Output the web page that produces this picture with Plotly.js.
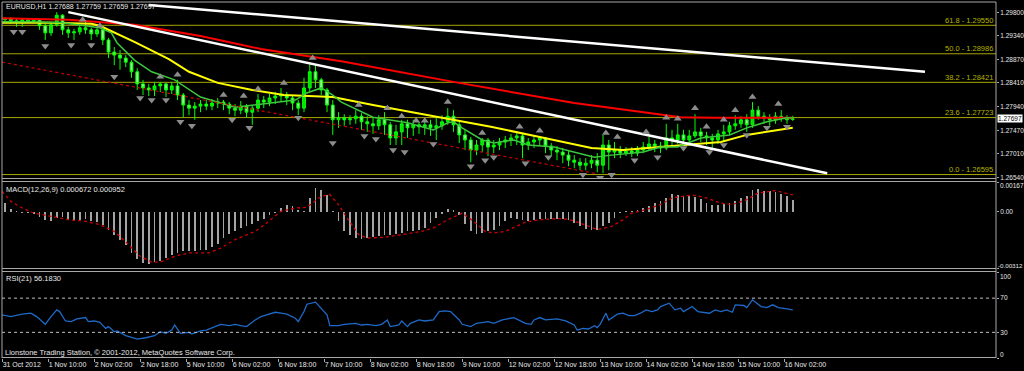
<!DOCTYPE html>
<html><head><meta charset="utf-8">
<script src="https://cdn.plot.ly/plotly-3.0.1.min.js"></script>
<style>html,body{margin:0;padding:0;background:#000;}#chart{width:1024px;height:371px;}</style>
</head><body><div id="chart"></div>
<script>
// ---------- DATA ----------
// Price candles (2-hour aggregation of the H1 chart, EURUSD)
const openP = [1.2966,1.2968,1.2964,1.2962,1.2966,1.2964,1.2966,1.2954,1.2940,1.2956,
1.2975,1.2946,1.2940,1.2942,1.2950,1.2946,1.2938,1.2946,1.2926,1.2902,
1.2896,1.2890,1.2882,1.2863,1.2839,1.2831,1.2827,1.2835,1.2839,1.2827,
1.2835,1.2817,1.2797,1.2791,1.2795,1.2799,1.2795,1.2801,1.2803,1.2799,
1.2791,1.2787,1.2795,1.2783,1.2791,1.2807,1.2803,1.2811,1.2815,1.2817,
1.2811,1.2801,1.2791,1.2831,1.2863,1.2847,1.2827,1.2797,1.2768,1.2772,
1.2768,1.2770,1.2775,1.2764,1.2760,1.2756,1.2768,1.2758,1.2732,1.2744,
1.2760,1.2752,1.2758,1.2754,1.2758,1.2752,1.2756,1.2764,1.2775,1.2758,
1.2738,1.2728,1.2708,1.2718,1.2728,1.2714,1.2718,1.2724,1.2728,1.2732,
1.2736,1.2718,1.2724,1.2728,1.2732,1.2716,1.2708,1.2704,1.2698,1.2688,
1.2684,1.2678,1.2682,1.2688,1.2678,1.2718,1.2704,1.2708,1.2702,1.2706,
1.2702,1.2708,1.2714,1.2720,1.2716,1.2712,1.2732,1.2728,1.2738,1.2728,
1.2736,1.2744,1.2736,1.2732,1.2728,1.2740,1.2744,1.2756,1.2760,1.2768,
1.2758,1.2787,1.2775,1.2772,1.2768,1.2775,1.2772,1.27688];
const closeP = [1.2968,1.2964,1.2962,1.2966,1.2964,1.2966,1.2954,1.2940,1.2956,1.2975,
1.2946,1.2940,1.2942,1.2950,1.2946,1.2938,1.2946,1.2926,1.2902,1.2896,
1.2890,1.2882,1.2863,1.2839,1.2831,1.2827,1.2835,1.2839,1.2827,1.2835,
1.2817,1.2797,1.2791,1.2795,1.2799,1.2795,1.2801,1.2803,1.2799,1.2791,
1.2787,1.2795,1.2783,1.2791,1.2807,1.2803,1.2811,1.2815,1.2817,1.2811,
1.2801,1.2791,1.2831,1.2863,1.2847,1.2827,1.2797,1.2768,1.2772,1.2768,
1.2770,1.2775,1.2764,1.2760,1.2756,1.2768,1.2758,1.2732,1.2744,1.2760,
1.2752,1.2758,1.2754,1.2758,1.2752,1.2756,1.2764,1.2775,1.2758,1.2738,
1.2728,1.2708,1.2718,1.2728,1.2714,1.2718,1.2724,1.2728,1.2732,1.2736,
1.2718,1.2724,1.2728,1.2732,1.2716,1.2708,1.2704,1.2698,1.2688,1.2684,
1.2678,1.2682,1.2688,1.2678,1.2718,1.2704,1.2708,1.2702,1.2706,1.2702,
1.2708,1.2714,1.2720,1.2716,1.2712,1.2732,1.2728,1.2738,1.2728,1.2736,
1.2744,1.2736,1.2732,1.2728,1.2740,1.2744,1.2756,1.2760,1.2768,1.2758,
1.2787,1.2775,1.2772,1.2768,1.2775,1.2772,1.2768,1.27697];
const highP = [1.2971,1.2971,1.2968,1.2969,1.2969,1.2969,1.2968,1.2958,1.2962,1.2981,
1.2977,1.2952,1.2948,1.2956,1.2962,1.2950,1.2950,1.2954,1.2930,1.2912,
1.2906,1.2896,1.2886,1.2870,1.2847,1.2839,1.2843,1.2843,1.2841,1.2843,
1.2847,1.2821,1.2807,1.2803,1.2807,1.2807,1.2809,1.2811,1.2807,1.2803,
1.2799,1.2805,1.2799,1.2797,1.2819,1.2815,1.2819,1.2823,1.2831,1.2823,
1.2817,1.2807,1.2851,1.2880,1.2878,1.2851,1.2831,1.2807,1.2783,1.2779,
1.2777,1.2787,1.2781,1.2775,1.2772,1.2777,1.2783,1.2764,1.2758,1.2768,
1.2768,1.2768,1.2764,1.2764,1.2768,1.2772,1.2777,1.2791,1.2787,1.2764,
1.2748,1.2734,1.2728,1.2732,1.2732,1.2728,1.2732,1.2736,1.2740,1.2744,
1.2740,1.2732,1.2736,1.2736,1.2734,1.2722,1.2716,1.2712,1.2708,1.2698,
1.2692,1.2692,1.2698,1.2702,1.2738,1.2728,1.2724,1.2716,1.2714,1.2714,
1.2716,1.2724,1.2734,1.2728,1.2724,1.2760,1.2748,1.2760,1.2748,1.2748,
1.2779,1.2752,1.2744,1.2740,1.2748,1.2758,1.2764,1.2777,1.2775,1.2779,
1.2803,1.2795,1.2783,1.2779,1.2783,1.2787,1.2777,1.27759];
const lowP = [1.2962,1.2958,1.2952,1.2952,1.2960,1.2960,1.2946,1.2926,1.2934,1.2952,
1.2936,1.2930,1.2926,1.2936,1.2938,1.2926,1.2932,1.2916,1.2890,1.2876,
1.2867,1.2872,1.2851,1.2827,1.2817,1.2815,1.2815,1.2823,1.2813,1.2819,
1.2807,1.2773,1.2777,1.2768,1.2783,1.2787,1.2787,1.2791,1.2787,1.2779,
1.2775,1.2779,1.2772,1.2758,1.2783,1.2791,1.2795,1.2799,1.2803,1.2797,
1.2787,1.2777,1.2783,1.2823,1.2831,1.2817,1.2783,1.2738,1.2752,1.2756,
1.2758,1.2760,1.2748,1.2744,1.2740,1.2748,1.2738,1.2718,1.2718,1.2718,
1.2732,1.2736,1.2740,1.2738,1.2736,1.2728,1.2748,1.2758,1.2744,1.2722,
1.2708,1.2684,1.2698,1.2704,1.2696,1.2702,1.2708,1.2712,1.2716,1.2718,
1.2692,1.2708,1.2712,1.2716,1.2702,1.2696,1.2688,1.2682,1.2676,1.2672,
1.2668,1.2668,1.2672,1.2664,1.2662,1.2668,1.2692,1.2692,1.2696,1.2694,
1.2696,1.2702,1.2708,1.2704,1.2702,1.2708,1.2716,1.2720,1.2720,1.2724,
1.2732,1.2724,1.2718,1.2712,1.2720,1.2724,1.2738,1.2748,1.2752,1.2744,
1.2752,1.2768,1.2760,1.2756,1.2760,1.2764,1.2760,1.27659];

// Moving averages (bar index, price)
const greenMaBar = [0,11,21,30,34,38,40,46,52,60,69,81,93,102,106,111,115,118,129,141,150,155,157,160,167,171,178,183,192,199,206,212,223,229,235,243,253,259,266,273,275];
const greenMa = [1.2962,1.2962,1.2960,1.2954,1.2950,1.2940,1.2920,1.2886,1.2863,1.2847,1.2813,1.2793,1.2801,1.2807,1.2821,1.2831,1.2817,1.2803,1.2773,1.2762,1.2748,1.2762,1.2764,1.2752,1.2728,1.2722,1.2728,1.2718,1.2714,1.2704,1.2694,1.2698,1.2704,1.2714,1.2714,1.2732,1.2738,1.2752,1.2764,1.2772,1.2772];
const yellowMaBar = [0,17,31,34,46,58,65,75,87,98,115,129,153,170,187,205,216,236,250,259,270,275];
const yellowMa = [1.2960,1.2960,1.2958,1.2954,1.2922,1.2888,1.2863,1.2841,1.2827,1.2817,1.2813,1.2797,1.2772,1.2754,1.2734,1.2712,1.2708,1.2718,1.2724,1.2738,1.2748,1.2752];
const redMaBar = [0,23,46,69,90,118,157,199,218,236,248,275];
const redMa = [1.2969,1.2966,1.2956,1.2934,1.2908,1.2884,1.2843,1.2801,1.2787,1.2773,1.2772,1.2772];

// Trend lines (end points: bar index, price)
const upperTrendBar = [51, 321];
const upperTrend = [1.2995, 1.2863];
const lowerTrendBar = [23, 287];
const lowerTrend = [1.2981, 1.2662];
const dottedTrendBar = [0, 207];
const dottedTrend = [1.2882, 1.2661];

// Fibonacci retracement levels
const fibLevels = [1.29550, 1.28986, 1.28421, 1.27723, 1.26595];
const fibLabels = ['61.8 - 1.29550', '50.0 - 1.28986', '38.2 - 1.28421', '23.6 - 1.27723', '0.0 - 1.26595'];

// Fractals
const fracUpBar = [28,34,55,61,77,84,89,98,108,124,134,139,144,147,155,167,180,187,210,214,224,231,235,241,245,251,255,261,270];
const fracUp = [1.2966,1.2954,1.2853,1.2857,1.2817,1.2815,1.2829,1.2841,1.2890,1.2797,1.2791,1.2775,1.2766,1.2766,1.2803,1.2742,1.2754,1.2746,1.2742,1.2734,1.2744,1.2772,1.2770,1.2791,1.2754,1.2768,1.2787,1.2813,1.2799];
const fracDnBar = [4,7,15,24,31,39,48,52,57,62,66,80,86,103,115,126,130,136,140,150,163,168,171,182,190,202,208,212,220,228,237,246,251,259,266,273];
const fracDn = [1.2942,1.2942,1.2914,1.2916,1.2916,1.2853,1.2811,1.2807,1.2807,1.2764,1.2756,1.2768,1.2752,1.2772,1.2722,1.2736,1.2730,1.2708,1.2704,1.2720,1.2676,1.2688,1.2694,1.2682,1.2694,1.2659,1.2653,1.2659,1.2688,1.2694,1.2712,1.2704,1.2718,1.2738,1.2752,1.2754];

// MACD(12,26,9): histogram per candle, signal line
const macdHist = [0.00050,0.00019,0.00007,-0.00004,-0.00007,-0.00011,-0.00030,-0.00043,-0.00048,-0.00033,
-0.00030,-0.00043,-0.00052,-0.00045,-0.00041,-0.00048,-0.00056,-0.00071,-0.00098,-0.00126,
-0.00154,-0.00182,-0.00228,-0.00260,-0.00284,-0.00290,-0.00279,-0.00271,-0.00256,-0.00241,
-0.00228,-0.00219,-0.00219,-0.00215,-0.00210,-0.00210,-0.00197,-0.00178,-0.00145,-0.00123,
-0.00108,-0.00089,-0.00080,-0.00067,-0.00052,-0.00037,-0.00019,-0.00004,0.00022,0.00037,
0.00032,0.00013,0.00007,0.00078,0.00134,0.00124,0.00097,0.00004,-0.00052,-0.00108,
-0.00130,-0.00145,-0.00149,-0.00145,-0.00141,-0.00136,-0.00126,-0.00130,-0.00123,-0.00117,
-0.00108,-0.00104,-0.00098,-0.00089,-0.00061,-0.00033,-0.00011,0.00019,0.00013,-0.00015,
-0.00067,-0.00108,-0.00123,-0.00117,-0.00108,-0.00098,-0.00080,-0.00052,-0.00033,-0.00037,
-0.00043,-0.00048,-0.00045,-0.00041,-0.00039,-0.00039,-0.00039,-0.00041,-0.00045,-0.00061,
-0.00080,-0.00093,-0.00100,-0.00098,-0.00080,-0.00061,-0.00033,-0.00007,0.00004,0.00007,
0.00013,0.00022,0.00032,0.00048,0.00063,0.00078,0.00100,0.00093,0.00087,0.00087,
0.00082,0.00074,0.00050,0.00037,0.00041,0.00045,0.00048,0.00059,0.00078,0.00087,
0.00124,0.00126,0.00119,0.00115,0.00111,0.00100,0.00087,0.00067];
const macdSigBar = [0,3,7,11,17,23,29,34,39,44,48,52,55,60,65,72,76,81,88,92,97,102,106,111,114,117,120,124,127,133,139,146,150,155,160,164,168,171,175,178,182,187,193,197,201,207,212,216,219,224,229,233,238,241,245,250,254,259,263,269,275];
const macdSig = [0.00115,0.00059,0.00022,-0.00006,-0.00024,-0.00043,-0.00052,-0.00071,-0.00108,-0.00182,
-0.00247,-0.00279,-0.00279,-0.00247,-0.00228,-0.00228,-0.00201,-0.00154,-0.00108,-0.00061,
0.00004,0.00022,0.00026,0.00087,0.00097,0.00041,-0.00033,-0.00126,-0.00145,-0.00141,
-0.00126,-0.00108,-0.00089,-0.00043,-0.00006,-0.00052,-0.00108,-0.00117,-0.00108,-0.00087,
-0.00056,-0.00043,-0.00037,-0.00041,-0.00061,-0.00098,-0.00080,-0.00043,-0.00006,0.00013,
0.00041,0.00078,0.00091,0.00093,0.00078,0.00050,0.00041,0.00069,0.00106,0.00119,0.00095];

// RSI(21)
const rsiBar = [0,3,7,10,12,14,15,17,19,20,22,24,26,29,30,32,34,36,37,39,40,43,47,50,53,55,57,59,60,62,65,66,69,71,73,76,79,81,83,85,88,90,92,95,97,99,102,103,105,106,109,111,113,114,117,119,123,125,127,130,132,134,135,138,139,141,142,145,147,150,152,154,156,159,160,163,165,169,171,174,178,182,184,185,187,189,193,196,199,200,202,204,206,207,208,210,211,214,216,218,220,222,224,226,228,229,232,234,236,237,240,242,246,248,250,252,254,255,258,259,261,264,266,268,270,273,275];
const rsiVal = [50.4,48.4,51.2,52.4,48.4,41.8,39.4,48.4,56.3,54.3,43.3,42.5,45.7,47.3,42.5,43.3,41.8,34.7,36.7,30.8,31.6,26.1,22.2,23.7,26.1,30.8,28.8,32.7,38.6,28.8,30.0,28.0,31.6,32.7,35.5,39.4,37.8,39.4,37.8,36.7,44.5,48.4,50.4,53.5,52.4,51.2,46.5,42.5,54.3,62.9,65.3,58.2,50.4,37.8,37.8,39.4,40.6,38.6,39.4,37.8,39.4,44.5,36.7,38.6,43.3,36.7,40.6,44.5,43.3,44.5,54.3,55.1,54.3,44.5,39.4,36.7,40.6,42.5,40.6,44.5,47.3,40.6,39.4,44.5,47.3,44.5,45.7,43.3,38.6,32.7,34.7,33.9,37.8,35.5,39.4,52.4,44.5,51.2,52.4,49.6,49.6,52.4,56.3,54.3,56.3,60.2,64.1,56.3,58.2,54.3,60.2,54.3,52.4,56.3,54.3,56.3,53.5,62.2,61.4,59.0,68.0,60.2,59.0,62.2,59.0,57.5,56.2];
const rsiLevels = [70, 30];

// Axis ticks
const timeTickBar = [0,16,32,48,64,80,96,112,128,144,160,176,192,208,224,240,256,272];
const timeTickLabels = ['31 Oct 2012','1 Nov 10:00','2 Nov 02:00','2 Nov 18:00','5 Nov 10:00','6 Nov 02:00','6 Nov 18:00','7 Nov 10:00','8 Nov 02:00','8 Nov 18:00','9 Nov 10:00','12 Nov 02:00','12 Nov 18:00','13 Nov 10:00','14 Nov 02:00','14 Nov 18:00','15 Nov 10:00','16 Nov 02:00'];
const priceTicks = [1.29800,1.29340,1.28870,1.28410,1.27940,1.27470,1.27010,1.26540];
const priceTickLabels = ['1.29800','1.29340','1.28870','1.28410','1.27940','1.27470','1.27010','1.26540'];
const lastPrice = 1.27697;
const headerText = 'EURUSD,H1 1.27688 1.27759 1.27659 1.27697';
const macdText = 'MACD(12,26,9) 0.000672 0.000952';
const rsiText = 'RSI(21) 56.1830';
const footerText = 'Lionstone Trading Station, © 2001-2012, MetaQuotes Software Corp.';

// ---------- DRAWING ----------
const candleBar = openP.map((_, k) => 2 * k + 1);
const FONT = 'Liberation Sans, Arial, sans-serif';
const FS = 7.5;
const AFS = 6.5;
const TXT = '#e8e8e8';
const py = px => (358 - px) / 356;   // pixel row -> paper fraction of plot area

const traces = [
  {type:'candlestick', x:candleBar, open:openP, high:highP, low:lowP, close:closeP,
   xaxis:'x', yaxis:'y', whiskerwidth:0, hoverinfo:'skip',
   increasing:{line:{color:'#00ff00', width:1}, fillcolor:'#00e000'},
   decreasing:{line:{color:'#00ff00', width:1}, fillcolor:'#8cff8c'}},
  {type:'scatter', mode:'lines', x:redMaBar, y:redMa, yaxis:'y', line:{color:'#ff0000', width:2}, hoverinfo:'skip'},
  {type:'scatter', mode:'lines', x:yellowMaBar, y:yellowMa, yaxis:'y', line:{color:'#ffff00', width:2}, hoverinfo:'skip'},
  {type:'scatter', mode:'lines', x:greenMaBar, y:greenMa, yaxis:'y', line:{color:'#3cc83c', width:1.5}, hoverinfo:'skip'},
  {type:'scatter', mode:'lines', x:dottedTrendBar, y:dottedTrend, yaxis:'y', line:{color:'#c80000', width:1.2, dash:'dot'}, hoverinfo:'skip'},
  {type:'scatter', mode:'lines', x:upperTrendBar, y:upperTrend, yaxis:'y', line:{color:'#ffffff', width:2.5}, hoverinfo:'skip'},
  {type:'scatter', mode:'lines', x:lowerTrendBar, y:lowerTrend, yaxis:'y', line:{color:'#ffffff', width:2.5}, hoverinfo:'skip'},
  {type:'scatter', mode:'markers', x:fracUpBar, y:fracUp, yaxis:'y', marker:{symbol:'triangle-up', size:7, color:'#8c8c8c'}, hoverinfo:'skip'},
  {type:'scatter', mode:'markers', x:fracDnBar, y:fracDn, yaxis:'y', marker:{symbol:'triangle-down', size:7, color:'#8c8c8c'}, hoverinfo:'skip'},
  {type:'bar', x:candleBar, y:macdHist, yaxis:'y2', width:0.6, marker:{color:'#a4a4a4', line:{width:0}}, hoverinfo:'skip'},
  {type:'scatter', mode:'lines', x:macdSigBar, y:macdSig, yaxis:'y2', line:{color:'#d00000', width:1.3, dash:'dot'}, hoverinfo:'skip'},
  {type:'scatter', mode:'lines', x:rsiBar, y:rsiVal, yaxis:'y3', line:{color:'#1e6ac8', width:1.3}, hoverinfo:'skip'}
];

const grey = '#a8a8a8';
const shapes = [];
fibLevels.forEach(v => shapes.push({type:'line', xref:'paper', yref:'y', x0:0, x1:1, y0:v, y1:v, line:{color:'#a6a600', width:1}, layer:'below'}));
rsiLevels.forEach(v => shapes.push({type:'line', xref:'paper', yref:'y3', x0:0, x1:1, y0:v, y1:v, line:{color:'#c0c0c0', width:1, dash:'dot'}}));
[1, py(178.5), py(181.5), py(268.5), py(271.5), py(357.5)].forEach(y => shapes.push({type:'line', xref:'paper', yref:'paper', x0:0, x1:1, y0:y, y1:y, line:{color:grey, width:1}}));
shapes.push({type:'line', xref:'paper', yref:'paper', x0:0, x1:0, y0:0, y1:1, line:{color:grey, width:1}});
shapes.push({type:'line', xref:'paper', yref:'paper', x0:1, x1:1, y0:0, y1:1, line:{color:grey, width:1}});

const ann = [];
const txt = (text, x, y, extra) => Object.assign({text, xref:'paper', yref:'paper', x, y, xanchor:'left', yanchor:'middle', showarrow:false, font:{family:FONT, size:FS, color:TXT}}, extra || {});
ann.push(txt(headerText, 0.002, py(6), {font:{family:FONT, size:7, color:TXT}}));
ann.push(txt(macdText, 0.002, py(189)));
ann.push(txt(rsiText, 0.002, py(278)));
ann.push(txt(footerText, 0.001, py(352.5)));
fibLevels.forEach((v, i) => ann.push({text:fibLabels[i], xref:'paper', yref:'y', x:1, y:v, xanchor:'right', yanchor:'middle', yshift:5, xshift:-1, showarrow:false, font:{family:FONT, size:FS, color:'#b4b400'}}));
ann.push({text:lastPrice.toFixed(5), xref:'paper', yref:'y', x:1, y:lastPrice, xanchor:'left', yanchor:'middle', xshift:1, showarrow:false, bgcolor:'#ffffff', borderpad:0, font:{family:FONT, size:AFS, color:'#000000'}});
const axFont = {family:FONT, size:AFS, color:TXT};
ann.push(txt('0.00167', 1, py(186), {xshift:2, font:axFont}));
ann.push(txt('-0.00312', 1, py(265), {xshift:0, font:{family:FONT, size:6.2, color:TXT}}));
ann.push(txt('100', 1, py(276), {xshift:2, font:axFont}));
ann.push(txt('0', 1, py(354), {xshift:2, font:axFont}));

const yBase = {side:'right', showgrid:false, zeroline:false, showline:false, ticks:'outside', ticklen:2, tickcolor:grey, ticklabelstandoff:0, tickfont:axFont, fixedrange:true};
const layout = {
  width:1024, height:371,
  paper_bgcolor:'#000000', plot_bgcolor:'#000000',
  margin:{l:2, r:28, t:2, b:13},
  showlegend:false, bargap:0,
  font:{family:FONT, size:FS, color:TXT},
  xaxis:{range:[-0.05, 345.7], anchor:'y3', tickmode:'array', tickvals:timeTickBar, ticktext:timeTickLabels, tickangle:0,
         ticks:'outside', ticklen:3, tickcolor:grey, ticklabelposition:'outside right',
         tickfont:{family:FONT, size:7, color:TXT}, showgrid:false, zeroline:false, showline:false,
         rangeslider:{visible:false}, fixedrange:true},
  yaxis:Object.assign({}, yBase, {domain:[py(178), 1], range:[1.26527, 1.30011], tickmode:'array', tickvals:priceTicks, ticktext:priceTickLabels, anchor:'x'}),
  yaxis2:Object.assign({}, yBase, {domain:[py(268), py(182)], range:[-0.00312, 0.00167], tickmode:'array', tickvals:[0.00167, 0, -0.00312], ticktext:['', '0.00', ''], anchor:'x'}),
  yaxis3:Object.assign({}, yBase, {domain:[0, py(272.5)], range:[0, 100], tickmode:'array', tickvals:[100, 70, 30, 0], ticktext:['', '70', '30', ''], anchor:'x'}),
  shapes:shapes, annotations:ann
};
Plotly.newPlot('chart', traces, layout, {staticPlot:true, displayModeBar:false});
</script>
</body></html>
